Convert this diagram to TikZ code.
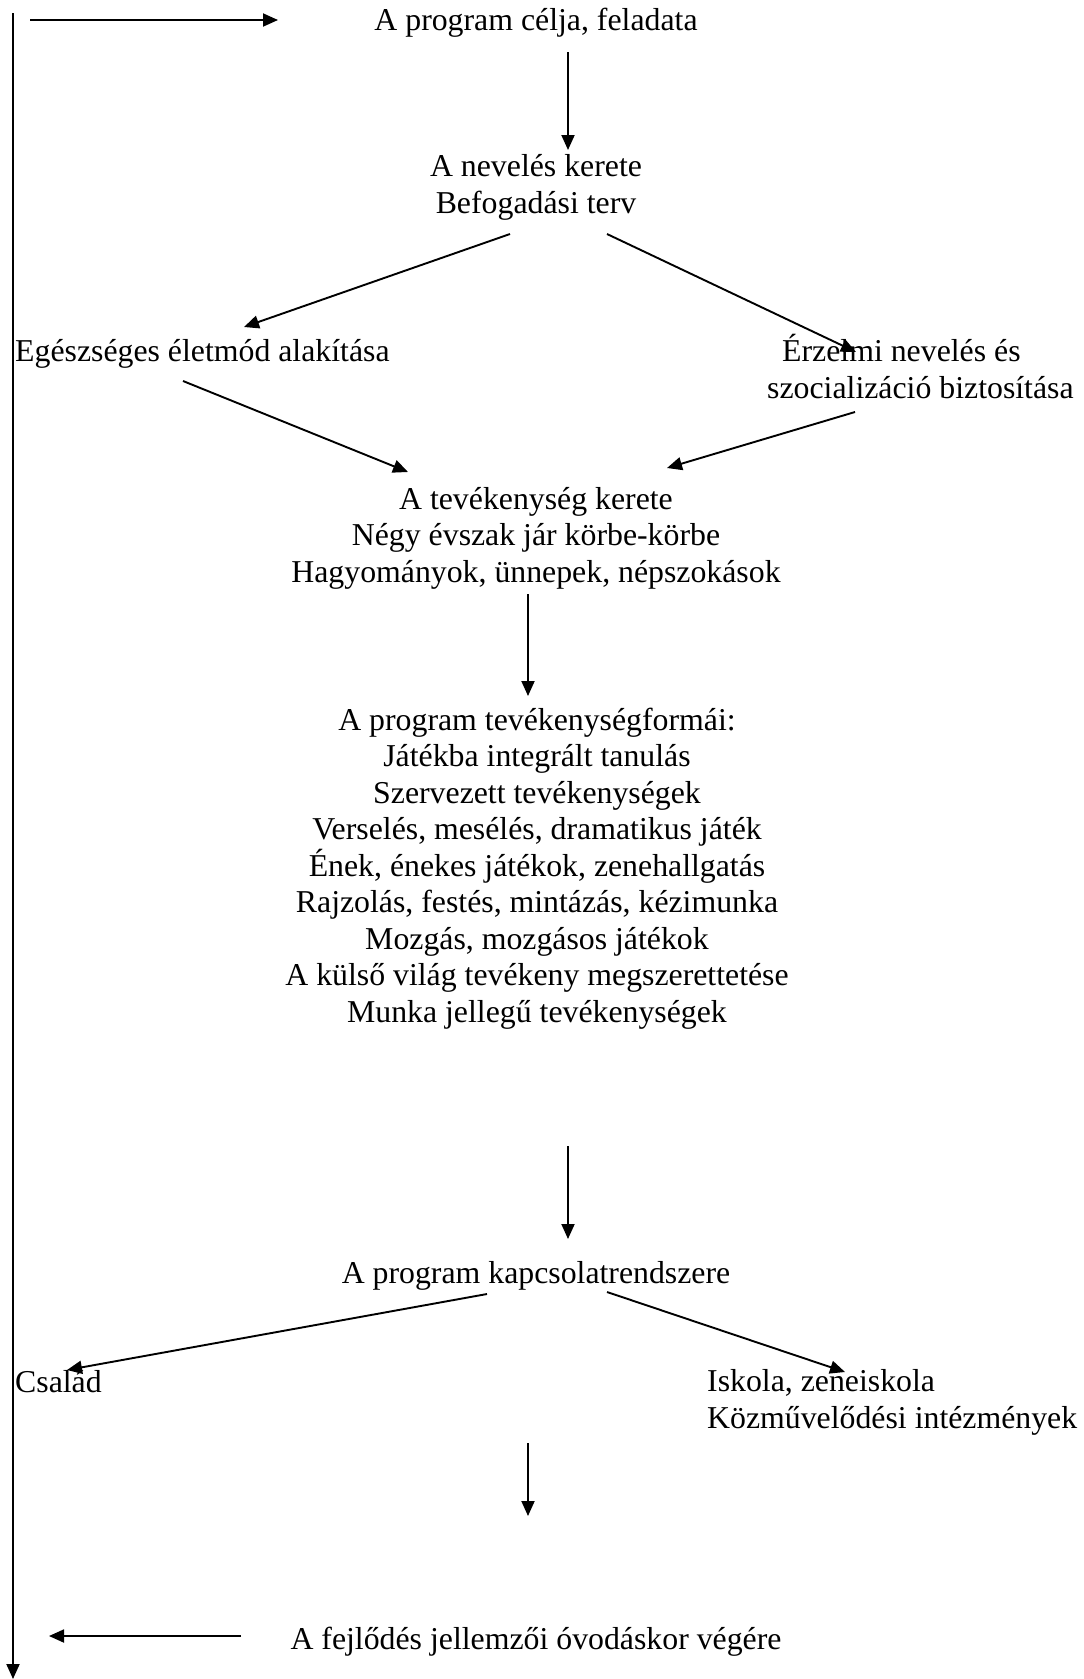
\documentclass[tikz,border=0pt]{standalone}
\usepackage{fontspec}
\setmainfont{Liberation Serif}
\usetikzlibrary{arrows.meta}
\begin{document}
\begin{tikzpicture}[x=1pt,y=-1pt,
  txt/.style={inner sep=0pt, font=\fontsize{31.8}{36.5}\selectfont},
  conn/.style={line width=1.9pt, -{Triangle[length=15pt,width=13pt]}}]
\useasboundingbox (0,0) rectangle (1084,1679);
% texts (multi-line nodes: base = baseline of the last line)
\node[txt,anchor=base] (cel) at (536,30) {A program célja, feladata};
\node[txt,anchor=base,align=center] (nev) at (536,213) {A nevelés kerete\\Befogadási terv};
\node[txt,anchor=base west] (egesz) at (15,361) {Egészséges életmód alakítása};
\node[txt,anchor=base west,align=left] (erz) at (767,398) {\hspace*{15pt}Érzelmi nevelés és\\szocializáció biztosítása};
\node[txt,anchor=base,align=center] (tev) at (536,582) {A tevékenység kerete\\Négy évszak jár körbe-körbe\\Hagyományok, ünnepek, népszokások};
\node[txt,anchor=base,align=center] (formak) at (537,1022) {A program tevékenységformái:\\Játékba integrált tanulás\\Szervezett tevékenységek\\Verselés, mesélés, dramatikus játék\\Ének, énekes játékok, zenehallgatás\\Rajzolás, festés, mintázás, kézimunka\\Mozgás, mozgásos játékok\\A külső világ tevékeny megszerettetése\\Munka jellegű tevékenységek};
\node[txt,anchor=base] (kapcs) at (536,1283) {A program kapcsolatrendszere};
\node[txt,anchor=base west] (csal) at (15,1392) {Család};
\node[txt,anchor=base west,align=left] (isk) at (707,1428) {Iskola, zeneiskola\\Közművelődési intézmények};
\node[txt,anchor=base] (fejl) at (536,1649) {A fejlődés jellemzői óvodáskor végére};
% connector end points
\coordinate (lineTop) at (13,13);
\coordinate (lineBot) at (13,1679);
\coordinate (topA) at (30,20);
\coordinate (topB) at (278,20);
\coordinate (celA) at (568,52);
\coordinate (celB) at (568,150);
\coordinate (nevA) at (510,234);
\coordinate (nevB) at (244,327);
\coordinate (nevC) at (607,234);
\coordinate (nevD) at (856,352);
\coordinate (egA) at (183,381);
\coordinate (egB) at (408,472);
\coordinate (erA) at (855,412);
\coordinate (erB) at (667,468);
\coordinate (tevA) at (528,594);
\coordinate (tevB) at (528,696);
\coordinate (foA) at (568,1146);
\coordinate (foB) at (568,1239);
\coordinate (kaA) at (487,1294);
\coordinate (kaB) at (67,1370);
\coordinate (kaC) at (607,1292);
\coordinate (kaD) at (845,1372);
\coordinate (isA) at (528,1443);
\coordinate (isB) at (528,1516);
\coordinate (feA) at (241,1636);
\coordinate (feB) at (49,1636);
% connectors
\draw[conn] (lineTop) -- (lineBot);
\draw[conn] (topA) -- (topB);
\draw[conn] (celA) -- (celB);
\draw[conn] (nevA) -- (nevB);
\draw[conn] (nevC) -- (nevD);
\draw[conn] (egA) -- (egB);
\draw[conn] (erA) -- (erB);
\draw[conn] (tevA) -- (tevB);
\draw[conn] (foA) -- (foB);
\draw[conn] (kaA) -- (kaB);
\draw[conn] (kaC) -- (kaD);
\draw[conn] (isA) -- (isB);
\draw[conn] (feA) -- (feB);
\end{tikzpicture}
\end{document}
